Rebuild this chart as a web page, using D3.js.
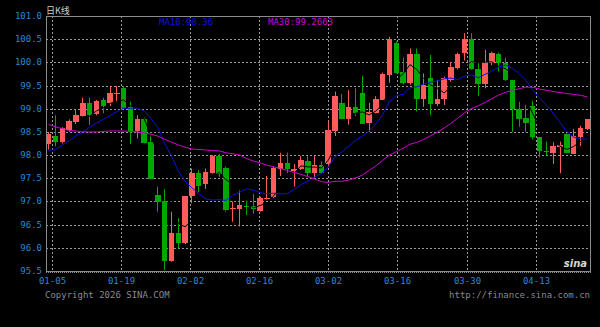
<!DOCTYPE html>
<html><head><meta charset="utf-8">
<script src="https://cdn.jsdelivr.net/npm/d3@7/dist/d3.min.js"></script>
<style>html,body{margin:0;padding:0;background:#000;}svg{display:block;}</style>
</head><body><svg id="c" width="600" height="327"></svg>
<script>
// ---- data ----
const opens  = [98.24,98.41,98.29,98.55,98.72,98.84,99.13,98.88,99.19,99.12,99.33,99.45,99.04,98.53,98.78,98.29,97.14,97.01,95.72,96.33,
                96.11,97.12,97.61,97.37,97.61,97.97,97.73,96.83,96.83,96.91,96.90,96.80,97.05,97.10,97.69,97.82,97.66,97.69,97.88,97.62,
                97.79,97.81,98.53,99.12,98.77,99.03,99.35,98.70,98.91,99.19,99.73,100.41,99.80,99.55,100.18,99.22,99.66,99.10,99.20,99.63,
                99.88,100.21,100.50,99.85,99.53,99.99,100.18,99.99,99.62,98.99,98.79,99.06,98.38,98.09,98.04,98.18,98.45,98.02,98.38,98.56];
const highs  = [98.50,98.86,98.60,98.77,98.99,99.24,99.24,99.19,99.24,99.49,99.49,99.49,99.15,98.86,98.81,98.43,97.32,97.26,96.78,96.64,
                97.12,97.71,97.68,97.71,98.00,98.02,97.75,97.00,97.25,97.03,97.16,97.10,97.55,97.75,98.05,98.05,97.81,97.98,97.98,97.98,
                97.86,98.72,99.37,99.32,99.40,99.44,99.71,99.13,99.27,99.78,100.55,100.45,100.10,100.30,100.30,99.76,100.16,99.62,99.69,100.01,
                100.21,100.63,100.63,99.99,100.27,100.23,100.21,100.10,99.62,99.15,99.08,99.17,98.38,98.29,98.29,98.29,98.47,98.56,98.63,98.78];
const lows   = [98.12,98.19,98.25,98.50,98.67,98.83,98.65,98.86,98.90,99.06,99.15,98.99,98.24,98.36,98.25,97.48,96.78,95.52,95.70,95.97,
                96.08,96.96,97.20,97.27,97.60,97.53,96.78,96.56,96.46,96.71,96.74,96.78,97.04,97.07,97.55,97.61,97.32,97.68,97.53,97.50,
                97.60,97.75,98.41,98.77,98.65,98.84,98.67,98.50,98.90,99.19,99.56,99.76,99.53,99.52,98.94,99.04,98.86,99.06,99.08,99.58,
                99.85,100.04,99.84,99.27,99.44,99.94,99.80,99.60,98.50,98.61,98.50,98.34,97.95,98.00,97.81,97.61,98.04,98.02,98.20,98.54];
const closes = [98.45,98.29,98.58,98.74,98.86,99.13,98.87,99.17,99.06,99.35,99.35,99.02,98.53,98.78,98.27,97.48,96.99,95.72,96.33,96.11,
                97.12,97.61,97.33,97.63,97.97,97.60,96.81,96.85,96.92,96.89,96.83,97.08,97.08,97.73,97.82,97.69,97.71,97.89,97.62,97.79,
                97.61,98.54,99.27,98.77,99.03,98.91,98.68,98.94,99.20,99.75,100.50,99.78,99.55,100.18,99.22,99.51,99.10,99.21,99.66,99.91,
                100.17,100.50,99.85,99.53,99.98,100.20,99.98,99.62,98.99,98.78,98.69,98.40,98.09,98.06,98.20,98.22,98.04,98.41,98.59,98.77];
const ma10Lead = [98.10,98.12,98.22,98.31,98.42,98.50,98.60,98.69,98.77];
const ma30Lead = [98.66,98.61,98.57,98.53,98.52,98.50,98.50,98.50,98.51,98.52,98.52,98.52,98.51,98.50,98.48,
                  98.45,98.41,98.34,98.28,98.22,98.17,98.13,98.12,98.11,98.10,98.09,98.05,98.03,98.00];
const yTicks = [95.5,96.0,96.5,97.0,97.5,98.0,98.5,99.0,99.5,100.0,100.5,101.0];
const xTickLabels = ["01-05","01-19","02-02","02-16","03-02","03-16","03-30","04-13"];
const titleText = "日K线";
const legend = [{name:"MA10", value:"98.36"},{name:"MA30", value:"99.2663"}];
const copyright = "Copyright 2026 SINA.COM";
const siteUrl = "http://finance.sina.com.cn";

// ---- layout ----
const L=46, R=590, T=16, B=271;
const gridOffset=5.7, gridStep=69.14;
const UP="#ff5b5b", DOWN="#00a800", GRID="#9a9a9a", AXISTXT="#2a86d6", FONT="'DejaVu Sans Mono', monospace";

const svg = d3.select("#c");
svg.append("rect").attr("width",600).attr("height",327).attr("fill","#000");

const data = opens.map((o,i)=>({i, o, h:highs[i], l:lows[i], c:closes[i]}));
const x = d3.scaleBand().domain(d3.range(data.length)).range([L,R]).paddingInner(0.2).paddingOuter(0);
const y = d3.scaleLinear().domain([95.5,101]).range([B,T]);
const cx = i => x(i) + x.bandwidth()/2;

// grid
const g = svg.append("g");
g.selectAll("line.h").data(yTicks.filter(v=>v>95.5 && v<101)).join("line")
  .attr("x1",L).attr("x2",R).attr("y1",d=>Math.round(y(d))+0.5).attr("y2",d=>Math.round(y(d))+0.5)
  .attr("stroke",GRID).attr("stroke-dasharray","2,2").attr("stroke-width",1);
const xg = k => Math.round(L+gridOffset+k*gridStep)+0.5;
g.selectAll("line.v").data(xTickLabels).join("line")
  .attr("x1",(d,k)=>xg(k)).attr("x2",(d,k)=>xg(k)).attr("y1",T).attr("y2",B)
  .attr("stroke",GRID).attr("stroke-dasharray","2,2").attr("stroke-width",1);

// candles
const cg = svg.append("g");
cg.selectAll("line.w").data(data).join("line")
  .attr("x1",d=>Math.floor(cx(d.i))+0.5).attr("x2",d=>Math.floor(cx(d.i))+0.5)
  .attr("y1",d=>y(d.h)).attr("y2",d=>y(d.l))
  .attr("stroke",d=>d.c>=d.o?UP:DOWN).attr("stroke-width",1);
cg.selectAll("rect").data(data).join("rect")
  .attr("x",d=>x(d.i)).attr("width",x.bandwidth())
  .attr("y",d=>y(Math.max(d.o,d.c))).attr("height",d=>Math.max(1,Math.abs(y(d.o)-y(d.c))))
  .attr("fill",d=>d.c>=d.o?UP:DOWN).attr("shape-rendering","crispEdges");

// moving averages
function ma(n, lead){
  return closes.map((c,i)=> i<n-1 ? (lead? lead[i] : null) : d3.mean(closes.slice(i-n+1,i+1)));
}
const line = d3.line().defined(d=>d!=null).x((d,i)=>cx(i)).y(d=>y(d));
svg.append("path").attr("d",line(ma(5,null))).attr("fill","none").attr("stroke","#000").attr("stroke-width",1);
svg.append("path").attr("d",line(ma(10,ma10Lead))).attr("fill","none").attr("stroke","#1010e0").attr("stroke-width",1);
svg.append("path").attr("d",line(ma(30,ma30Lead))).attr("fill","none").attr("stroke","#d000d0").attr("stroke-width",1);

// frame
const fr = svg.append("g").attr("stroke","#8c8c8c").attr("stroke-width",1).attr("shape-rendering","crispEdges");
fr.append("line").attr("x1",L).attr("x2",R+1).attr("y1",T).attr("y2",T);
fr.append("line").attr("x1",L).attr("x2",L).attr("y1",T).attr("y2",B);
fr.append("line").attr("x1",R).attr("x2",R).attr("y1",T).attr("y2",B);
fr.append("line").attr("x1",L).attr("x2",R+1).attr("y1",B).attr("y2",B);
// bottom ruler ticks
svg.append("g").selectAll("line").data(d3.range(L, R+1, 2)).join("line")
  .attr("x1",d=>d+0.5).attr("x2",d=>d+0.5).attr("y1",B).attr("y2",B+2)
  .attr("stroke","#8c8c8c").attr("shape-rendering","crispEdges");

// y labels
svg.append("g").selectAll("text").data(yTicks).join("text")
  .attr("x",L-4).attr("y",d=>y(d)+3).attr("text-anchor","end")
  .attr("font-family",FONT).attr("font-size",9).attr("fill",AXISTXT).text(d=>d.toFixed(1));
// x labels
svg.append("g").selectAll("text").data(xTickLabels).join("text")
  .attr("x",(d,k)=>xg(k)).attr("y",284).attr("text-anchor","middle")
  .attr("font-family",FONT).attr("font-size",9).attr("fill",AXISTXT).text(d=>d);

// title & legend
svg.append("text").attr("x",L).attr("y",14).attr("font-family","'Noto Sans CJK SC', sans-serif")
  .attr("font-size",9).attr("fill","#cfcfcf").text(titleText);
svg.append("text").attr("x",159).attr("y",25).attr("font-family",FONT).attr("font-size",9)
  .attr("fill","#1010e0").text(legend[0].name+":"+legend[0].value);
svg.append("text").attr("x",268).attr("y",25).attr("font-family",FONT).attr("font-size",9)
  .attr("fill","#d000d0").text(legend[1].name+":"+legend[1].value);

// footer
svg.append("text").attr("x",45).attr("y",297.5).attr("font-family",FONT).attr("font-size",9)
  .attr("fill","#8a8a8a").text(copyright);
svg.append("text").attr("x",590).attr("y",297.5).attr("text-anchor","end").attr("font-family",FONT).attr("font-size",9)
  .attr("fill","#8a8a8a").text(siteUrl);
// logo mark
svg.append("text").attr("x",587).attr("y",267).attr("text-anchor","end").attr("font-family","'DejaVu Sans', sans-serif")
  .attr("font-size",10).attr("font-style","italic").attr("font-weight","bold").attr("fill","#d8d8d8").text("sina");
</script></body></html>
